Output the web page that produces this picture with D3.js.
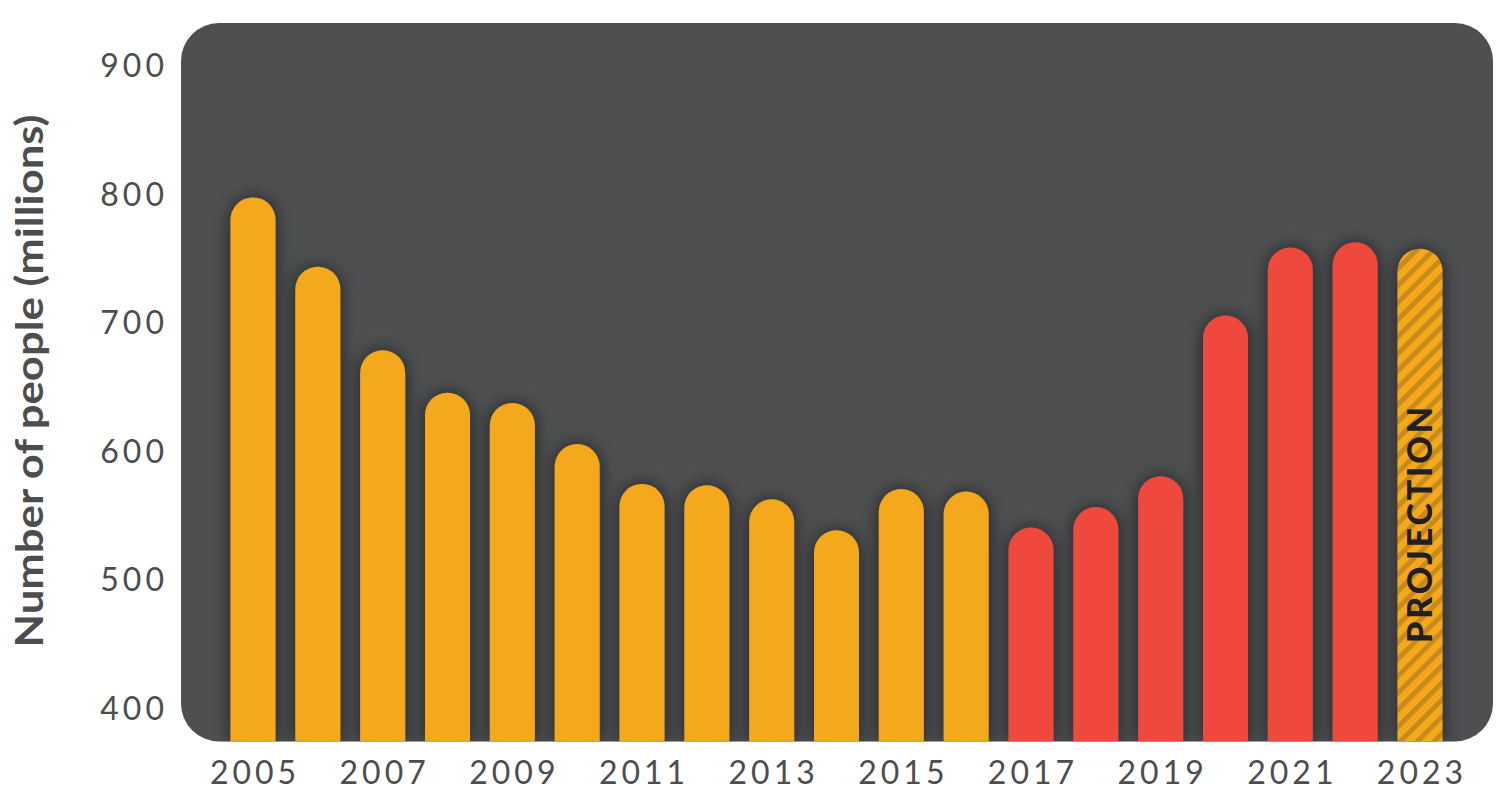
<!DOCTYPE html>
<html lang="en">
<head>
    <meta charset="UTF-8">
    <title>Number of people (millions)</title>
    <style>
        body {
            margin: 0;
            background-color: #fff;
            font-family: Lato, "Open Sans", sans-serif;
        }
        #chart {
            display: block;
        }
        .tick-label {
            fill: #4d4d4f;
            font-family: Lato, "Open Sans", sans-serif;
            font-size: 32px;
            letter-spacing: 4px;
        }
    </style>
</head>
<body>
    <svg id="chart" width="1512" height="802"></svg>
    <script src="https://d3js.org/d3.v7.min.js"></script>
    <script>
        // values (millions of people)
        const years = [2005, 2006, 2007, 2008, 2009, 2010, 2011, 2012, 2013, 2014,
                       2015, 2016, 2017, 2018, 2019, 2020, 2021, 2022, 2023];
        const values = [797, 743, 678, 645, 637, 605, 574, 573, 562, 538,
                        570, 568, 540, 556, 580, 705, 758, 762, 757];
        // which colour group each bar belongs to
        const kinds = ["early", "early", "early", "early", "early", "early", "early", "early", "early", "early",
                       "early", "early", "recent", "recent", "recent", "recent", "recent", "recent", "projection"];
        const yTicks = [400, 500, 600, 700, 800, 900];
        const xTicks = [2005, 2007, 2009, 2011, 2013, 2015, 2017, 2019, 2021, 2023];

        const colors = {early: "#f4a91e", recent: "#ef4a3e", projection: "url(#stripes)"};

        const svg = d3.select("#chart");

        // panel box
        const panel = {x: 181, y: 23, w: 1312, h: 718.5, r: 38};
        const bottom = panel.y + panel.h;

        const y = d3.scaleLinear()
            .domain([400, 900])
            .range([707.5, 65]);

        const step = 64.83;
        const x = d3.scaleBand()
            .domain(years)
            .range([253 - step / 2, 1420 + step / 2])
            .paddingInner(0.306)
            .paddingOuter(0.153);

        const defs = svg.append("defs");

        const shadow = defs.append("filter")
            .attr("id", "shadow")
            .attr("x", "-50%").attr("y", "-20%")
            .attr("width", "200%").attr("height", "140%");
        shadow.append("feDropShadow")
            .attr("dx", 0).attr("dy", 0)
            .attr("stdDeviation", 9)
            .attr("flood-color", "#000")
            .attr("flood-opacity", 0.6);

        defs.append("clipPath").attr("id", "panelClip")
            .append("rect")
            .attr("x", panel.x).attr("y", panel.y)
            .attr("width", panel.w).attr("height", panel.h)
            .attr("rx", panel.r);

        const pat = defs.append("pattern")
            .attr("id", "stripes")
            .attr("patternUnits", "userSpaceOnUse")
            .attr("width", 12).attr("height", 12)
            .attr("patternTransform", "rotate(45)");
        pat.append("rect")
            .attr("width", 12).attr("height", 12)
            .attr("fill", "#f4a91e");
        pat.append("rect")
            .attr("width", 5).attr("height", 12)
            .attr("fill", "#c98a1c");

        svg.append("rect")
            .attr("x", panel.x).attr("y", panel.y)
            .attr("width", panel.w).attr("height", panel.h)
            .attr("rx", panel.r)
            .attr("fill", "#4e4f51");

        // bar with a round cap on top
        function barPath(d, i) {
            const bw = x.bandwidth();
            const r = bw / 2;
            const x0 = x(years[i]);
            const top = y(d);
            return `M${x0},${bottom}V${top + r}A${r},${r} 0 0 1 ${x0 + bw},${top + r}V${bottom}Z`;
        }

        const bars = svg.append("g")
            .attr("clip-path", "url(#panelClip)")
            .append("g")
            .attr("filter", "url(#shadow)");

        bars.selectAll("path")
            .data(values)
            .enter().append("path")
            .attr("d", barPath)
            .attr("fill", (d, i) => colors[kinds[i]]);

        // projection label
        const pIdx = kinds.indexOf("projection");
        svg.append("text")
            .attr("transform", `translate(${x(years[pIdx]) + x.bandwidth() / 2 + 12},525) rotate(-90)`)
            .attr("text-anchor", "middle")
            .attr("textLength", 236)
            .attr("lengthAdjust", "spacing")
            .style("font-size", "34px")
            .style("font-weight", 900)
            .style("fill", "#231f20")
            .text("PROJECTION");

        // y axis labels
        const yAxis = svg.append("g")
            .attr("transform", "translate(168,0)")
            .call(d3.axisLeft(y).tickValues(yTicks).tickSize(0).tickPadding(0));
        yAxis.select(".domain").remove();
        yAxis.attr("font-family", null).attr("font-size", null);
        yAxis.selectAll("text")
            .attr("class", "tick-label")
            .attr("dy", "0.36em");

        // x axis labels
        const xAxis = svg.append("g")
            .attr("transform", `translate(0,${bottom})`)
            .call(d3.axisBottom(x).tickValues(xTicks).tickSize(0));
        xAxis.select(".domain").remove();
        xAxis.attr("font-family", null).attr("font-size", null);
        xAxis.selectAll("text")
            .attr("class", "tick-label")
            .attr("y", 42)
            .attr("dy", 0)
            .attr("dx", 2);

        // axis title
        svg.append("text")
            .attr("transform", "translate(43,381) rotate(-90)")
            .attr("text-anchor", "middle")
            .attr("textLength", 533)
            .attr("lengthAdjust", "spacingAndGlyphs")
            .style("font-size", "38px")
            .style("font-weight", 700)
            .style("fill", "#4d4d4f")
            .text("Number of people (millions)");
    </script>
</body>
</html>
